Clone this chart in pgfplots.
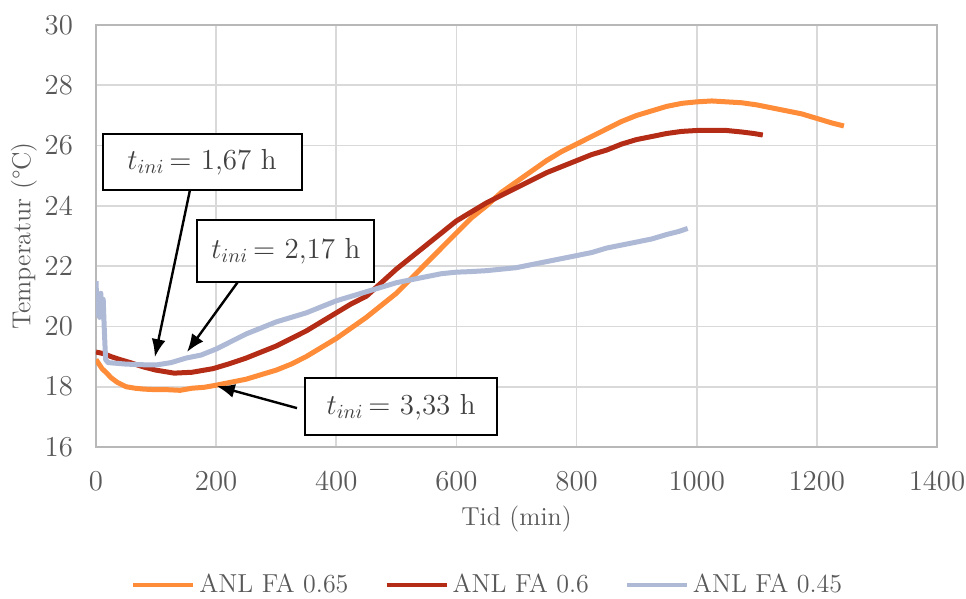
\documentclass[border=0pt]{standalone}
\usepackage{pgfplots}
\pgfplotsset{compat=1.18}
\usetikzlibrary{arrows.meta}
\definecolor{txt}{RGB}{89,89,89}
\definecolor{gridc}{RGB}{217,217,217}
\definecolor{orA}{RGB}{255,140,56}
\definecolor{redA}{RGB}{180,44,22}
\definecolor{bluA}{RGB}{174,185,214}
\begin{document}
\fontsize{13}{15}\selectfont
\begin{tikzpicture}
\path[use as bounding box] (-48pt,-76pt) rectangle (435pt,223.5pt);
\begin{axis}[
  at={(0,0)}, anchor=south west,
  scale only axis, width=420.5pt, height=211pt,
  xmin=0, xmax=1400, ymin=16, ymax=30,
  xtick={0,200,...,1400}, ytick={16,18,...,30},
  /pgf/number format/1000 sep={},
  grid=major, major grid style={gridc, line width=0.8pt},
  axis line style={gridc!85!black, line width=0.8pt},
  tick style={draw=none},
  ticklabel style={text=txt, font=\fontsize{13.5}{16}\selectfont},
  xticklabel style={yshift=-8pt},
  yticklabel style={xshift=-7pt},
  xlabel={Tid (min)}, ylabel={Temperatur (\textdegree C)},
  label style={text=txt, font=\fontsize{13}{15}\selectfont},
  xlabel style={yshift=1pt},
  ylabel style={yshift=-5pt},
  legend columns=3,
  legend style={draw=none, at={(axis description cs:0.467,-0.327)}, anchor=center,
    font=\fontsize{13}{15}\selectfont, text=txt,
    /tikz/every even column/.append style={column sep=16pt}},
  legend image code/.code={\draw[#1, line width=2pt] (0pt,0pt) -- (30pt,0pt);},
  every axis plot/.append style={line width=2.5pt, line join=round},
]
\addplot[orA] coordinates {
(0,18.9) (5,18.75) (10,18.6) (18,18.45) (25,18.3) (35,18.15) (50,18.0) (65,17.95) (80,17.92) (100,17.9) (120,17.9) (140,17.88) (160,17.95) (180,17.98) (200,18.05) (225,18.15) (250,18.25) (275,18.4) (300,18.55) (325,18.75) (350,19.0) (375,19.3) (400,19.6) (425,19.95) (450,20.3) (475,20.7) (500,21.1) (525,21.6) (550,22.1) (575,22.6) (600,23.1) (625,23.6) (650,24.0) (675,24.45) (700,24.8) (725,25.15) (750,25.5) (775,25.8) (800,26.05) (825,26.3) (850,26.55) (875,26.8) (900,27.0) (925,27.15) (950,27.3) (975,27.4) (1000,27.45) (1025,27.48) (1050,27.45) (1075,27.42) (1100,27.35) (1125,27.25) (1150,27.15) (1175,27.05) (1200,26.9) (1225,26.75) (1245,26.65)
};
\addlegendentry{ANL FA 0.65}
\addplot[redA] coordinates {
(0,19.15) (12,19.1) (25,19.0) (40,18.9) (57,18.8) (80,18.65) (100,18.55) (130,18.45) (160,18.48) (195,18.6) (220,18.75) (250,18.95) (275,19.15) (300,19.35) (325,19.6) (350,19.85) (375,20.15) (400,20.45) (425,20.75) (450,21.0) (475,21.45) (500,21.9) (525,22.3) (550,22.7) (575,23.1) (600,23.5) (625,23.8) (650,24.1) (675,24.35) (700,24.6) (725,24.85) (750,25.1) (775,25.3) (800,25.5) (825,25.7) (850,25.85) (875,26.05) (900,26.2) (925,26.3) (950,26.4) (975,26.47) (1000,26.5) (1025,26.5) (1050,26.5) (1075,26.45) (1095,26.4) (1110,26.35)
};
\addlegendentry{ANL FA 0.6}
\addplot[bluA] coordinates {
(0,21.5) (2,20.4) (4,21.0) (6,20.3) (8,21.1) (10,20.4) (12,20.9) (14,19.8) (16,18.9) (20,18.8) (50,18.75) (75,18.73) (100,18.72) (125,18.8) (150,18.95) (175,19.05) (200,19.25) (225,19.5) (250,19.75) (275,19.95) (300,20.15) (325,20.3) (350,20.45) (375,20.65) (400,20.85) (425,21.0) (450,21.15) (475,21.3) (500,21.45) (525,21.55) (550,21.65) (575,21.75) (600,21.8) (625,21.82) (650,21.85) (675,21.9) (700,21.95) (725,22.05) (750,22.15) (775,22.25) (800,22.35) (825,22.45) (850,22.6) (875,22.7) (900,22.8) (925,22.9) (950,23.05) (970,23.15) (985,23.25)
};
\addlegendentry{ANL FA 0.45}
\draw[-{Latex[length=9pt,width=7pt]}, line width=1.2pt, black] (axis cs:156.5,24.53) -- (axis cs:98,18.98);
\draw[-{Latex[length=9pt,width=7pt]}, line width=1.2pt, black] (axis cs:236,21.47) -- (axis cs:151.5,19.15);
\draw[-{Latex[length=9pt,width=7pt]}, line width=1.2pt, black] (axis cs:334.6,17.29) -- (axis cs:201,18.02);
\node[draw=black, line width=1pt, fill=white, minimum width=99.5pt, minimum height=28pt, inner sep=0pt, text=black!75, font=\fontsize{14.5}{16}\selectfont]
  at (axis cs:176.5,25.45) {$t_{ini}$\,= 1,67 h};
\node[draw=black, line width=1pt, fill=white, minimum width=88.5pt, minimum height=31pt, inner sep=0pt, text=black!75, font=\fontsize{14.5}{16}\selectfont]
  at (axis cs:316,22.5) {$t_{ini}$\,= 2,17 h};
\node[draw=black, line width=1pt, fill=white, minimum width=96pt, minimum height=28.5pt, inner sep=0pt, text=black!75, font=\fontsize{14.5}{16}\selectfont]
  at (axis cs:508,17.33) {$t_{ini}$\,= 3,33 h};
\end{axis}
\end{tikzpicture}
\end{document}
